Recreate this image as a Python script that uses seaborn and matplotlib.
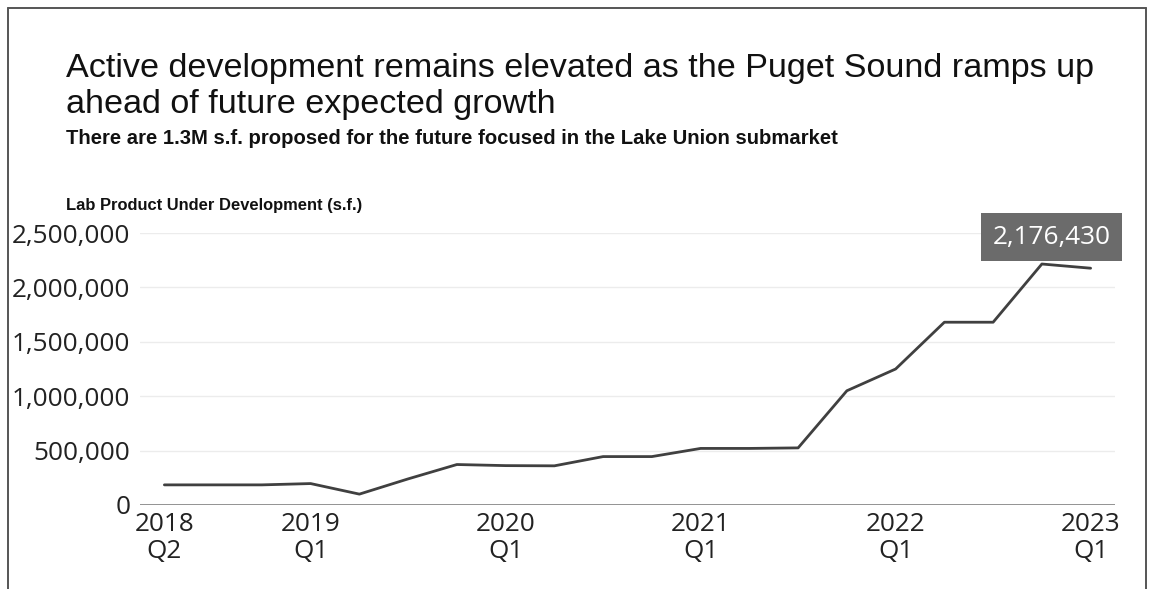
import numpy as np
import pandas as pd
import matplotlib
matplotlib.use("Agg")
import matplotlib.pyplot as plt
from matplotlib.lines import Line2D
from matplotlib.ticker import FuncFormatter
import seaborn as sns

# ---------------- data ----------------
quarters = ["2018 Q2", "2018 Q3", "2018 Q4", "2019 Q1", "2019 Q2", "2019 Q3",
            "2019 Q4", "2020 Q1", "2020 Q2", "2020 Q3", "2020 Q4", "2021 Q1",
            "2021 Q2", "2021 Q3", "2021 Q4", "2022 Q1", "2022 Q2", "2022 Q3",
            "2022 Q4", "2023 Q1"]
sqft = [185000, 185000, 185000, 197000, 100000, 240000,
        372000, 362000, 360000, 445000, 445000, 520000,
        520000, 525000, 1050000, 1250000, 1680000, 1680000,
        2215000, 2176430]
tick_quarters = ["2018 Q2", "2019 Q1", "2020 Q1", "2021 Q1", "2022 Q1", "2023 Q1"]
y_ticks = [0, 500000, 1000000, 1500000, 2000000, 2500000]

title_lines = ["Active development remains elevated as the Puget Sound ramps up",
               "ahead of future expected growth"]
subtitle = "There are 1.3M s.f. proposed for the future focused in the Lake Union submarket"
y_label = "Lab Product Under Development (s.f.)"
callout = "2,176,430"

# ---------------- style ----------------
sns.set_theme(style="white")
plt.rcParams["font.family"] = ["Open Sans", "DejaVu Sans"]

W, H = 1159, 589
fig = plt.figure(figsize=(W / 100, H / 100), dpi=100)
fig.patch.set_facecolor("white")

# frame around the graphic (left, top, right)
frame_c = "#555555"
fig.add_artist(Line2D([8 / W, 8 / W], [0, 1 - 8 / H], transform=fig.transFigure, color=frame_c, lw=1.4))
fig.add_artist(Line2D([8 / W, 1146 / W], [1 - 8 / H, 1 - 8 / H], transform=fig.transFigure, color=frame_c, lw=1.4))
fig.add_artist(Line2D([1146 / W, 1146 / W], [0, 1 - 8 / H], transform=fig.transFigure, color=frame_c, lw=1.4))

ax = fig.add_axes([140 / W, 1 - 505 / H, (1115 - 140) / W, (505 - 233) / H])

df = pd.DataFrame({"quarter": quarters, "sqft": sqft})
df["idx"] = np.arange(len(df))

# grid
for v in y_ticks[1:]:
    ax.axhline(v, color="#ececec", lw=1.0, zorder=0)
ax.axhline(0, color="#8a8a8a", lw=1.3, zorder=1)

sns.lineplot(data=df, x="idx", y="sqft", color="#404040", lw=2.0, ax=ax, zorder=3)

ax.set_xlim(-0.5, 19.5)
ax.set_ylim(0, 2500000)
for s in ax.spines.values():
    s.set_visible(False)

ax.set_yticks(y_ticks)
ax.yaxis.set_major_formatter(FuncFormatter(lambda v, p: f"{int(v):,}"))
tick_pos = [quarters.index(q) for q in tick_quarters]
ax.set_xticks(tick_pos)
ax.set_xticklabels([q.replace(" ", "\n") for q in tick_quarters], linespacing=1.1)
ax.tick_params(axis="y", length=0, pad=7, labelsize=18.8, labelcolor="#222222")
ax.tick_params(axis="x", length=0, pad=5, labelsize=18.8, labelcolor="#222222")
ax.set_xlabel("")
ax.set_ylabel("")

# callout box on last value
ax.annotate(callout, xy=(df["idx"].iloc[-1], df["sqft"].iloc[-1]),
            xytext=(-39 * 0.72, 31 * 0.72), textcoords="offset points",
            ha="center", va="center", color="white", fontsize=18.8,
            bbox=dict(boxstyle="square,pad=0.45", fc="#6b6b6b", ec="none"), zorder=5)

# titles
sans = ["Liberation Sans", "DejaVu Sans"]
fig.text(66 / W, 1 - 69 / H, title_lines[0], fontsize=24.6, family=sans, va="center", ha="left", color="#111111")
fig.text(66 / W, 1 - 105 / H, title_lines[1], fontsize=24.6, family=sans, va="center", ha="left", color="#111111")
fig.text(66 / W, 1 - 138 / H, subtitle, fontsize=14.6, family=sans, fontweight="bold", va="center", ha="left", color="#111111")
fig.text(66 / W, 1 - 205 / H, y_label, fontsize=11.9, family=sans, fontweight="bold", va="center", ha="left", color="#111111")

fig.savefig("out.png", dpi=100, facecolor="white")
